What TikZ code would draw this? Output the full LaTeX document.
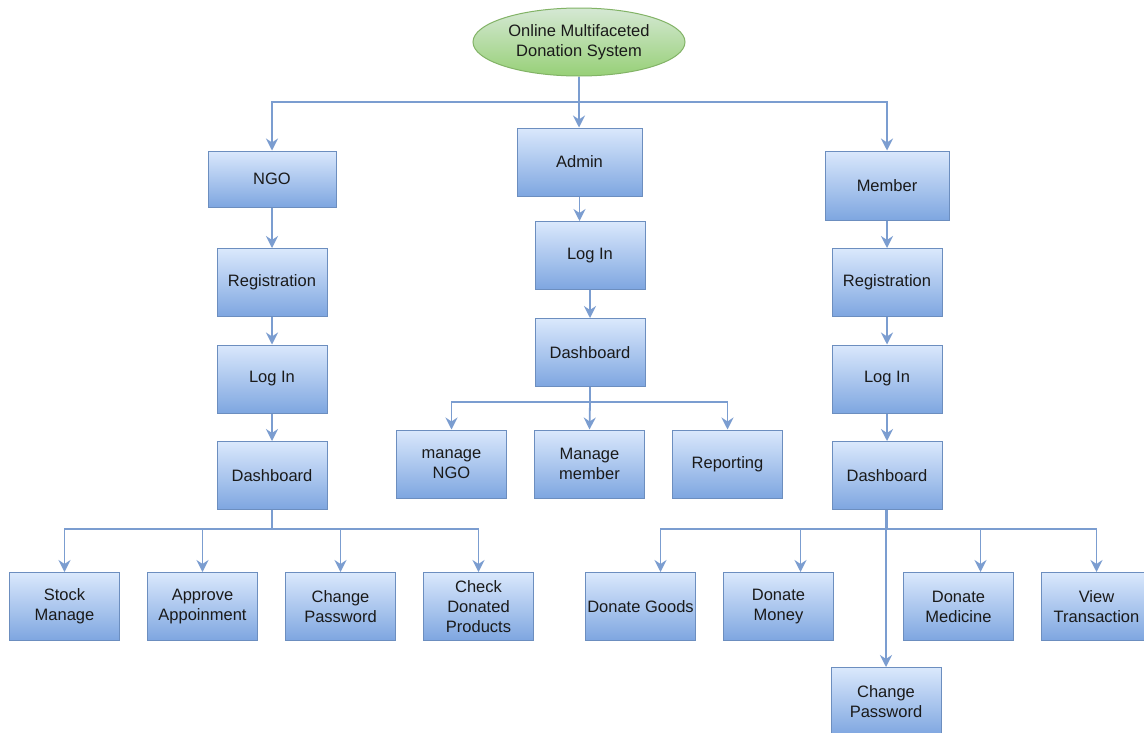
\documentclass[tikz,border=0pt]{standalone}
\usepackage{fontspec}
\setmainfont{Liberation Sans}
\usetikzlibrary{arrows.meta,shapes.geometric,calc}
\definecolor{bxfillA}{HTML}{DAE8FC}
\definecolor{bxfillB}{HTML}{7EA6E0}
\definecolor{bxline}{HTML}{6C8EBF}
\definecolor{edgecol}{HTML}{7B9DD0}
\definecolor{grA}{HTML}{D5E8D4}
\definecolor{grB}{HTML}{97D077}
\definecolor{grline}{HTML}{82B366}
\definecolor{txt}{HTML}{1A1A1A}
\tikzset{
  bx/.style={rectangle, draw=bxline, line width=1pt, top color=bxfillA, bottom color=bxfillB,
    minimum width=110pt, minimum height=68pt, inner sep=0pt, align=center,
    font=\fontsize{16.5}{20}\selectfont, text=txt},
  rootell/.style={ellipse, draw=grline, line width=1pt, top color=grA, bottom color=grB,
    minimum width=212pt, minimum height=68pt, inner sep=0pt, align=center,
    font=\fontsize{16.5}{20}\selectfont, text=txt},
  edge/.style={draw=edgecol, line width=1.8pt, -{Stealth[length=12pt,width=12pt,inset=4pt]}},
  bus/.style={draw=edgecol, line width=1.8pt}
}
\begin{document}
\begin{tikzpicture}[x=1pt,y=-1pt]
\useasboundingbox (0,0) rectangle (1144,732);
\fill[white] (0,0) rectangle (1144,732);
% root
\node[rootell] (root) at (579,42) {Online Multifaceted\\Donation System};
% level 1
\node[bx, minimum width=128pt, minimum height=56pt] (ngo) at (272,179) {NGO};
\node[bx, minimum width=125pt] (admin) at (579.5,162) {Admin};
\node[bx, minimum width=124pt, minimum height=69pt] (member) at (887,185.5) {Member};
% NGO column
\node[bx] (nreg) at (272,282.5) {Registration};
\node[bx] (nlog) at (272,379) {Log In};
\node[bx] (ndash) at (272,475.5) {Dashboard};
% Admin column
\node[bx] (alog) at (590,255.5) {Log In};
\node[bx] (adash) at (590,352.5) {Dashboard};
\node[bx] (amngo) at (451.5,464) {manage\\NGO};
\node[bx] (ammem) at (589.5,464) {Manage\\member};
\node[bx] (arep) at (727.5,464) {Reporting};
% Member column
\node[bx] (mreg) at (887,282.5) {Registration};
\node[bx] (mlog) at (887,379) {Log In};
\node[bx] (mdash) at (887,475.5) {Dashboard};
% NGO leaves
\node[bx] (nstock) at (64.5,606.5) {Stock\\Manage};
\node[bx] (nappr) at (202.5,606.5) {Approve\\Appoinment};
\node[bx] (ncp) at (340.5,606.5) {Change\\Password};
\node[bx] (ncheck) at (478.5,606.5) {Check\\Donated\\Products};
% Member leaves
\node[bx] (mgoods) at (640.5,606.5) {Donate Goods};
\node[bx] (mmoney) at (778.5,606.5) {Donate\\Money};
\node[bx] (mmed) at (958.5,606.5) {Donate\\Medicine};
\node[bx] (mview) at (1096.5,606.5) {View\\Transaction};
\node[bx] (mcp) at (886,701.5) {Change\\Password};
% bus points
\coordinate (b0) at (579,102);
\coordinate (b1) at (590,402);
\coordinate (b2) at (272,529);
\coordinate (b3) at (887,529);
% connectors
\draw[bus] (root.south) -- (b0);
\draw[edge] (b0) -| (ngo.north);
\draw[edge] (b0) -- (b0 |- admin.north);
\draw[edge] (b0) -| (member.north);
\draw[edge] (ngo.south) -- (nreg.north);
\draw[edge] (nreg.south) -- (nlog.north);
\draw[edge] (nlog.south) -- (ndash.north);
\draw[edge] (admin.south) -- (admin.south |- alog.north);
\draw[edge] (alog.south) -- (adash.north);
\draw[edge] (member.south) -- (mreg.north);
\draw[edge] (mreg.south) -- (mlog.north);
\draw[edge] (mlog.south) -- (mdash.north);
\draw[bus] (adash.south) -- (b1);
\draw[edge] (b1) -| (amngo.north);
\draw[edge] (b1) -- (ammem.north);
\draw[edge] (b1) -| (arep.north);
\draw[bus] (ndash.south) -- (b2);
\draw[edge] (b2) -| (nstock.north);
\draw[edge] (b2) -| (nappr.north);
\draw[edge] (b2) -| (ncp.north);
\draw[edge] (b2) -| (ncheck.north);
\draw[bus] (mdash.south) -- (b3);
\draw[edge] (b3) -| ([xshift=20pt]mgoods.north);
\draw[edge] (b3) -| ([xshift=22pt]mmoney.north);
\draw[edge] (b3) -| ([xshift=22pt]mmed.north);
\draw[edge] (b3) -| (mview.north);
\draw[edge] (mdash.south -| mcp.north) -- (mcp.north);
\end{tikzpicture}
\end{document}
